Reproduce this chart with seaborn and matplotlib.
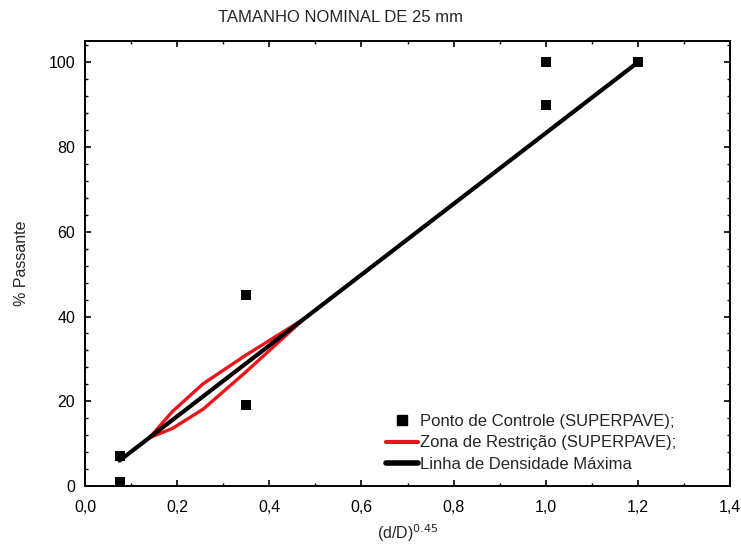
import matplotlib
matplotlib.use("Agg")
import matplotlib.pyplot as plt
import seaborn as sns
import pandas as pd
from matplotlib.ticker import MultipleLocator, AutoMinorLocator, FuncFormatter
from matplotlib.lines import Line2D

# Data
ctrl_x = [0.075, 0.075, 0.35, 0.35, 1.0, 1.0, 1.2]
ctrl_y = [1, 7, 45, 19, 100, 90, 100]

zone_x = [0.14, 0.19, 0.256, 0.348, 0.476]
zone_upper = [11.4, 17.6, 24.1, 30.8, 39.5]
zone_lower = [11.4, 13.6, 18.1, 26.8, 39.5]

mdl_x = [0.075, 1.2]
mdl_y = [6.0, 100.0]

title = "TAMANHO NOMINAL DE 25 mm"
xlabel = r"(d/D)$^{0.45}$"
ylabel = "% Passante"
legend_labels = ["Ponto de Controle (SUPERPAVE);",
                 "Zona de Restrição (SUPERPAVE);",
                 "Linha de Densidade Máxima"]

sns.set_theme(style="white")
plt.rcParams['font.family'] = ['Liberation Sans', 'DejaVu Sans']

fig = plt.figure(figsize=(7.41, 5.47), dpi=100)
ax = fig.add_axes([85/741, 1-486/547, (730-85)/741, (486-40.7)/547])

df_mdl = pd.DataFrame({"x": mdl_x, "y": mdl_y})
df_up = pd.DataFrame({"x": zone_x, "y": zone_upper})
df_lo = pd.DataFrame({"x": zone_x, "y": zone_lower})
df_ctrl = pd.DataFrame({"x": ctrl_x, "y": ctrl_y})

sns.lineplot(data=df_up, x="x", y="y", sort=False, color="#e8161b", lw=2.4, ax=ax, zorder=3)
sns.lineplot(data=df_lo, x="x", y="y", sort=False, color="#e8161b", lw=2.4, ax=ax, zorder=3)
sns.lineplot(data=df_mdl, x="x", y="y", sort=False, color="black", lw=3.0, ax=ax, zorder=4)
sns.scatterplot(data=df_ctrl, x="x", y="y", marker="s", s=60, color="black",
                edgecolor="black", linewidth=0, ax=ax, zorder=5, clip_on=False)

ax.set_xlim(0, 1.4)
ax.set_ylim(0, 105.1)
ax.xaxis.set_major_locator(MultipleLocator(0.2))
ax.xaxis.set_minor_locator(MultipleLocator(0.1))
ax.yaxis.set_major_locator(MultipleLocator(20))
ax.yaxis.set_minor_locator(AutoMinorLocator(5))
ax.xaxis.set_major_formatter(FuncFormatter(lambda v, p: f"{v:.1f}".replace(".", ",")))
ax.yaxis.set_major_formatter(FuncFormatter(lambda v, p: f"{v:.0f}"))
ax.tick_params(which="both", direction="in", top=True, right=True, bottom=True, left=True,
               color="black", labelsize=11.5, labelcolor="black")
ax.tick_params(which="major", length=4, width=1.2)
ax.tick_params(axis="x", which="major", pad=10)
ax.tick_params(axis="y", which="major", pad=7)
ax.tick_params(which="minor", length=2.5, width=1.0)
for s in ax.spines.values():
    s.set_color("black")
    s.set_linewidth(1.4)

ax.set_xlabel(xlabel, fontsize=11.5, labelpad=5)
ax.set_ylabel(ylabel, fontsize=11.5, labelpad=14)

fig.text(340/741, 1-18/547, title, ha="center", va="center", fontsize=12)

handles = [
    Line2D([], [], marker="s", color="black", linestyle="none", markersize=7),
    Line2D([], [], color="#e8161b", lw=3),
    Line2D([], [], color="black", lw=4),
]
ax.legend(handles, legend_labels, loc="lower right", bbox_to_anchor=(0.935, 0.005),
          frameon=False, fontsize=12, handlelength=1.9, handletextpad=0.15,
          labelspacing=0.4, borderaxespad=0.3)

fig.savefig("out.png", dpi=100)
